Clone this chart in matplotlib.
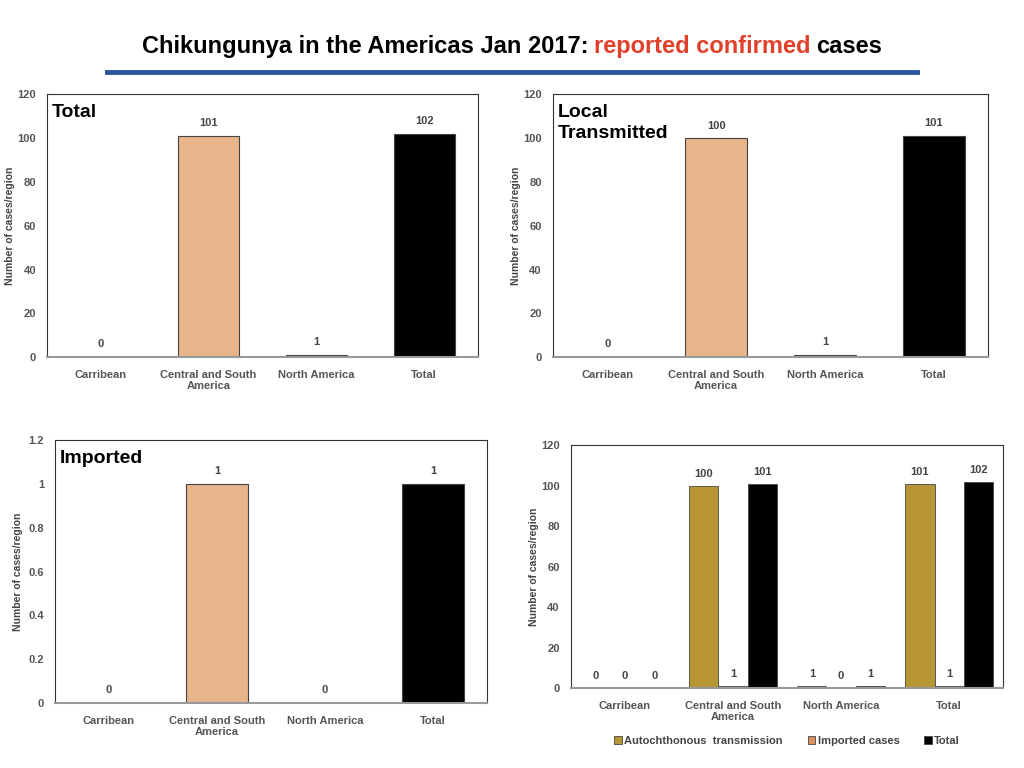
import numpy as np
import matplotlib.pyplot as plt

plt.rcParams['font.family'] = ['Liberation Sans', 'DejaVu Sans']

regions = ['Carribean', 'Central and South\nAmerica', 'North America', 'Total']
total_cases = [0, 101, 1, 102]
local_cases = [0, 100, 1, 101]
imported_cases = [0, 1, 0, 1]

# grouped panel
autochthonous = [0, 100, 1, 101]
imported_grp = [0, 1, 0, 1]
total_grp = [0, 101, 1, 102]
series_names = ['Autochthonous  transmission', 'Imported cases', 'Total']

bar_colors = ['#D9D9D9', '#E8B48A', '#44546A', '#000000']
grp_colors = ['#B89535', '#E0925E', '#000000']
tick_gray = '#555555'
label_gray = '#444444'

fig = plt.figure(figsize=(10.24, 7.68), dpi=100)
fig.patch.set_facecolor('white')

# title in three coloured pieces, laid side by side
pieces = [('Chikungunya in the Americas Jan 2017:', 'black'),
          ('reported confirmed', '#E0402A'),
          ('cases', 'black')]
renderer = fig.canvas.get_renderer()
texts = []
for s, c in pieces:
    t = fig.text(0, 0.939, s, ha='left', va='center', fontsize=17,
                 fontweight='bold', color=c)
    texts.append(t)
widths = [t.get_window_extent(renderer).width for t in texts]
space = 6
total_w = sum(widths) + 2 * space
xpos = 512 - total_w / 2
for t, w in zip(texts, widths):
    t.set_x(xpos / 1024)
    xpos += w + space

fig.add_artist(plt.Line2D([107 / 1024, 917 / 1024], [1 - 72 / 768, 1 - 72 / 768],
                          color='#2B579A', lw=3.5, transform=fig.transFigure))


def style_axes(ax, ymax, step, fmt):
    ax.set_ylim(0, ymax)
    ticks = np.arange(0, ymax + step / 2, step)
    ax.set_yticks(ticks)
    ax.set_yticklabels([fmt(t) for t in ticks])
    ax.set_xlim(-0.5, 3.5)
    ax.set_xticks(range(len(regions)))
    ax.set_xticklabels(regions)
    ax.tick_params(axis='x', length=0, labelsize=8, colors=tick_gray, pad=9)
    ax.tick_params(axis='y', length=0, labelsize=8, colors=tick_gray, pad=8)
    for lab in ax.get_xticklabels() + ax.get_yticklabels():
        lab.set_fontweight('bold')
    ax.set_ylabel('Number of cases/region', fontsize=7.5, color=label_gray,
                  fontweight='bold')
    ax.yaxis.set_label_coords(-0.074, 0.5)
    for sp in ax.spines.values():
        sp.set_color('#333333')
        sp.set_linewidth(0.8)
    ax.spines['bottom'].set_color('#999999')
    ax.spines['bottom'].set_linewidth(1.5)


def simple_panel(rect, values, title, ymax, step, fmt, off):
    ax = fig.add_axes(rect)
    x = np.arange(len(values))
    ax.bar(x, values, width=0.57, color=bar_colors, edgecolor='#444444', linewidth=0.8)
    for xi, v in zip(x, values):
        ax.text(xi, v + off, f'{v}', ha='center', va='bottom', fontsize=8,
                fontweight='bold', color=label_gray)
    style_axes(ax, ymax, step, fmt)
    ax.text(0.012, 0.965, title, transform=ax.transAxes, ha='left', va='top',
            fontsize=14, fontweight='bold', color='black', linespacing=1.35)
    return ax


simple_panel([0.0459, 0.535, 0.421, 0.342], total_cases, 'Total', 120, 20,
             lambda t: f'{int(t)}', 3.5)
simple_panel([0.540, 0.535, 0.425, 0.342], local_cases, 'Local\nTransmitted', 120, 20,
             lambda t: f'{int(t)}', 3.5)
simple_panel([0.0537, 0.0846, 0.422, 0.342], imported_cases, 'Imported', 1.2, 0.2,
             lambda t: f'{t:g}', 0.035)

ax = fig.add_axes([0.5576, 0.104, 0.422, 0.316])
x = np.arange(len(regions))
w = 0.27
for i, (vals, col, name) in enumerate(zip([autochthonous, imported_grp, total_grp],
                                          grp_colors, series_names)):
    pos = x + (i - 1) * w
    ax.bar(pos, vals, width=w, color=col, edgecolor='#444444', linewidth=0.6, label=name)
    for p, v in zip(pos, vals):
        ax.text(p, v + 3.5, f'{v}', ha='center', va='bottom', fontsize=8,
                fontweight='bold', color=label_gray)
style_axes(ax, 120, 20, lambda t: f'{int(t)}')
leg = ax.legend(loc='upper center', bbox_to_anchor=(0.5, -0.155), ncol=3, frameon=False,
                fontsize=8, handlelength=0.7, handleheight=0.7, handletextpad=0.2,
                columnspacing=2.2)
for t in leg.get_texts():
    t.set_color(label_gray)
    t.set_fontweight('bold')

fig.savefig('out.png', dpi=100)
